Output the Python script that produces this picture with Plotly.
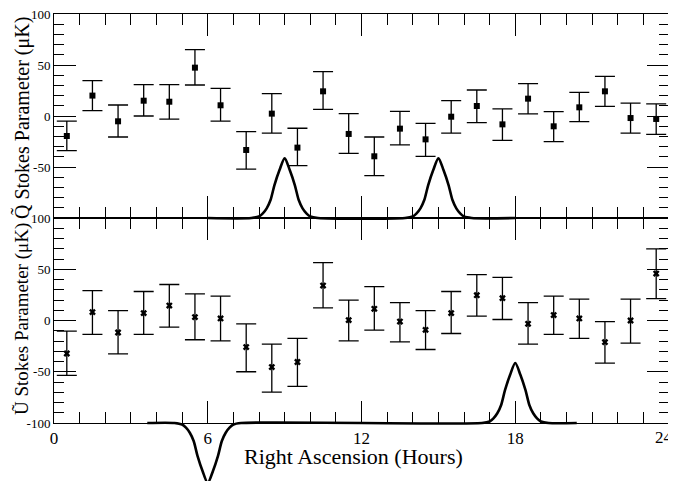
import plotly.graph_objects as go

# ---------------- data ----------------
ra_hours = [0.5, 1.5, 2.5, 3.5, 4.5, 5.5, 6.5, 7.5, 8.5, 9.5, 10.5, 11.5,
            12.5, 13.5, 14.5, 15.5, 16.5, 17.5, 18.5, 19.5, 20.5, 21.5, 22.5, 23.5]

q_value = [-19.6, 20.0, -5.2, 15.0, 14.0, 47.4, 10.5, -33.3, 2.3, -31.0, 24.2, -17.6,
           -39.5, -12.4, -22.9, -0.7, 9.8, -8.2, 17.0, -10.1, 8.5, 24.2, -2.0, -2.9]
q_upper = [-5.0, 34.6, 10.8, 30.7, 30.7, 65.0, 27.0, -15.4, 21.9, -12.0, 43.5, 2.3,
           -20.6, 4.6, -7.2, 15.0, 25.5, 6.9, 31.7, 4.2, 23.2, 38.9, 12.7, 11.8]
q_lower = [-34.0, 5.2, -20.6, 0.0, -3.0, 30.4, -5.0, -52.0, -16.7, -48.7, 6.5, -36.6,
           -58.5, -28.4, -39.5, -16.7, -6.5, -23.9, 2.0, -25.2, -5.6, 9.5, -16.7, -18.0]

u_value = [-32.2, 8.2, -11.7, 7.2, 14.6, 3.3, 2.0, -25.9, -45.4, -40.5, 34.1, 0.4,
           11.4, -1.0, -9.1, 7.2, 24.7, 21.8, -3.2, 5.3, 2.0, -21.1, 0.0, 45.8]
u_upper = [-10.4, 29.2, 9.7, 28.3, 35.1, 26.0, 23.8, -3.2, -23.0, -17.5, 56.5, 19.9,
           33.1, 17.5, 9.7, 28.3, 44.8, 42.0, 17.5, 23.8, 20.8, -1.0, 20.8, 69.9]
u_lower = [-53.6, -13.6, -32.5, -13.6, -6.4, -18.8, -19.8, -50.0, -69.8, -64.3, 12.4, -19.8,
           -9.4, -20.8, -28.3, -12.7, 4.3, 1.0, -23.0, -13.6, -17.5, -41.6, -22.1, 21.4]

# beam-profile curves (drawn along the -100 baseline)
beam_offset = [-1.3, -1.0, -0.85, -0.7, -0.55, -0.4, -0.2, 0.0, 0.2, 0.4, 0.55, 0.7, 0.85, 1.0, 1.3]
beam_height = [0.0, 1.5, 4.6, 9.5, 17.6, 32.0, 47.0, 58.5, 47.0, 32.0, 17.6, 9.5, 4.6, 1.5, 0.0]
q_beam_range = [6.0, 18.0]
q_beam_centers = [9.0, 15.0]
q_beam_signs = [1, 1]
u_beam_range = [3.64, 20.4]
u_beam_centers = [6.0, 18.0]
u_beam_signs = [-1, 1]
baseline = -100

x_tickvals = [0, 6, 12, 18, 24]
x_ticktext = ["0", "6", "12", "18", "24"]
y_tickvals = [-100, -50, 0, 50, 100]
q_ticktext = [" ", "-50", "0", "50", "100"]
u_ticktext = ["-100", "-50", "0", "50", "100"]

q_title = "Q\u0303 Stokes Parameter (\u03bcK)"
u_title = "\u0168 Stokes Parameter (\u03bcK)"
x_title = "Right Ascension (Hours)"


def beam_curve(rng, centers, signs):
    xs = [rng[0]]
    ys = [baseline]
    for c, s in zip(centers, signs):
        for o, h in zip(beam_offset, beam_height):
            xs.append(c + o)
            ys.append(baseline + s * h)
    xs.append(rng[1])
    ys.append(baseline)
    return xs, ys


# ---------------- layout geometry ----------------
# the page body adds an 8 px offset, so the figure is sized to fill the window from there
OFF = 8
W, H = 676 - OFF, 481 - OFF
SCR_LEFT, SCR_RIGHT = 54, 669
SCR_TOP, SCR_MID, SCR_BOT = 14, 218, 423
ML, MR, MT, MB = SCR_LEFT - OFF, (W + OFF) - SCR_RIGHT, SCR_TOP - OFF, 0
PW = W - ML - MR
PH = H - MT - MB


def fy(px):  # screen y pixel -> paper fraction
    return (H - MB - (px - OFF)) / PH


def fx(px):  # screen x pixel -> paper fraction
    return (px - OFF - ML) / PW


FONT = "'Liberation Serif', 'Times New Roman', Times, serif"
TICKFONT_X = dict(family=FONT, size=17, color="black")

fig = go.Figure()

err_style = dict(type="data", symmetric=False, color="black", thickness=1.3, width=10)

fig.add_trace(go.Scatter(
    x=ra_hours, y=q_value, mode="markers",
    marker=dict(symbol="square", size=6, color="black"),
    error_y=dict(array=[u - v for u, v in zip(q_upper, q_value)],
                 arrayminus=[v - l for v, l in zip(q_value, q_lower)], **err_style),
    xaxis="x", yaxis="y", showlegend=False, hoverinfo="skip"))

fig.add_trace(go.Scatter(
    x=ra_hours, y=u_value, mode="markers",
    marker=dict(symbol="x", size=6, color="black", line=dict(width=0)),
    error_y=dict(array=[u - v for u, v in zip(u_upper, u_value)],
                 arrayminus=[v - l for v, l in zip(u_value, u_lower)], **err_style),
    xaxis="x2", yaxis="y2", showlegend=False, hoverinfo="skip"))

qx, qy = beam_curve(q_beam_range, q_beam_centers, q_beam_signs)
fig.add_trace(go.Scatter(x=qx, y=qy, mode="lines", line=dict(color="black", width=2.6, shape="spline", smoothing=0.8),
                         xaxis="x", yaxis="y3", showlegend=False, hoverinfo="skip"))
ux, uy = beam_curve(u_beam_range, u_beam_centers, u_beam_signs)
fig.add_trace(go.Scatter(x=ux, y=uy, mode="lines", line=dict(color="black", width=2.6, shape="spline", smoothing=0.8),
                         xaxis="x2", yaxis="y4", showlegend=False, hoverinfo="skip"))

xcommon = dict(range=[0, 24], tickmode="array", ticks="inside", ticklen=22,
               tickwidth=1, tickcolor="black", showline=True, linecolor="black", linewidth=1,
               mirror="ticks", showgrid=False, zeroline=False, automargin=False,
               ticklabeloverflow="allow",
               minor=dict(tickmode="linear", tick0=0, dtick=1, ticks="inside", ticklen=11,
                          tickcolor="black", tickwidth=1, showgrid=False),
               tickfont=TICKFONT_X)

ycommon = dict(range=[-100, 100], tickmode="array", tickvals=y_tickvals, ticks="inside", ticklen=22,
               tickwidth=1, tickcolor="black", showline=True, linecolor="black", linewidth=1,
               mirror="ticks", showgrid=False, zeroline=False, automargin=False,
               ticklabeloverflow="allow",
               minor=dict(tickmode="linear", tick0=0, dtick=10, ticks="inside", ticklen=10,
                          tickcolor="black", tickwidth=1, showgrid=False),
               tickfont=dict(family=FONT, size=13, color="black"))

top_dom = [fy(SCR_MID), fy(SCR_TOP)]
bot_dom = [fy(SCR_BOT), fy(SCR_MID)]

q_curve_px = 235
q_curve_low = 100 - (q_curve_px - SCR_TOP) * 200 / (SCR_MID - SCR_TOP)
u_curve_low = 100 - (481 - SCR_MID) * 200 / (SCR_BOT - SCR_MID)

# the last x tick label sits at the window edge, so it is drawn as its own text nudged inward
x2_ticktext = x_ticktext[:-1] + [" "]

fig.update_layout(
    width=W, height=H,
    margin=dict(l=ML, r=MR, t=MT, b=MB, pad=0, autoexpand=False),
    paper_bgcolor="white", plot_bgcolor="rgba(0,0,0,0)",
    font=dict(family=FONT, color="black"),
    xaxis=dict(domain=[0, 1], anchor="y", showticklabels=False, tickvals=x_tickvals, **xcommon),
    xaxis2=dict(domain=[0, 1], anchor="y2", showticklabels=True, tickvals=x_tickvals,
                ticktext=x2_ticktext, **xcommon),
    yaxis=dict(domain=top_dom, anchor="x", ticktext=q_ticktext, **ycommon),
    yaxis2=dict(domain=bot_dom, anchor="x2", ticktext=u_ticktext, **ycommon),
    yaxis3=dict(domain=[fy(q_curve_px), 1], anchor="x", range=[q_curve_low, 100], visible=False,
                automargin=False),
    yaxis4=dict(domain=[0, fy(SCR_MID)], anchor="x2", range=[u_curve_low, 100], visible=False,
                automargin=False),
    annotations=[
        dict(text=q_title, xref="paper", yref="paper", x=fx(22), y=fy(118),
             textangle=-90, showarrow=False, font=dict(family=FONT, size=20, color="black"),
             xanchor="center", yanchor="middle"),
        dict(text=u_title, xref="paper", yref="paper", x=fx(22), y=fy(319),
             textangle=-90, showarrow=False, font=dict(family=FONT, size=19, color="black"),
             xanchor="center", yanchor="middle"),
        dict(text=x_title, xref="paper", yref="paper", x=fx(353), y=fy(456),
             showarrow=False, font=dict(family=FONT, size=22, color="black"),
             xanchor="center", yanchor="middle"),
        dict(text=x_ticktext[-1], xref="x2", yref="paper", x=x_tickvals[-1], y=fy(437),
             showarrow=False, font=TICKFONT_X, xanchor="center", yanchor="middle",
             xshift=-5, borderpad=0),
    ],
)

fig.write_html("out.html")
